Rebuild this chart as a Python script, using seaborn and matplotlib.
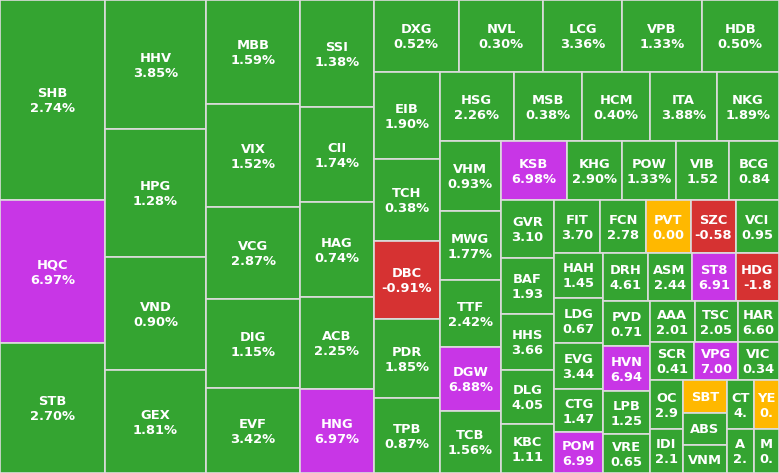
import matplotlib
matplotlib.use("Agg")
import matplotlib.pyplot as plt
import seaborn as sns

# ---- data (order as laid out, largest first) ----
tickers = ["SHB", "HQC", "STB", "HHV", "HPG", "VND", "GEX", "MBB", "VIX", "VCG",
           "DIG", "EVF", "SSI", "CII", "HAG", "ACB", "HNG", "DXG", "NVL", "LCG",
           "VPB", "HDB", "EIB", "TCH", "DBC", "PDR", "TPB", "HSG", "MSB", "HCM",
           "ITA", "NKG", "VHM", "MWG", "TTF", "DGW", "TCB", "KSB", "KHG", "POW",
           "VIB", "BCG", "GVR", "BAF", "HHS", "DLG", "KBC", "FIT", "FCN", "PVT",
           "SZC", "VCI", "HAH", "LDG", "EVG", "CTG", "POM", "DRH", "ASM", "ST8",
           "HDG", "PVD", "HVN", "LPB", "VRE", "AAA", "TSC", "HAR", "SCR", "VPG",
           "VIC", "OC", "IDI", "SBT", "ABS", "VNM", "CT", "YE", "A", "M"]

# relative tile size (trading value weight)
weights = [20900, 14912, 13616, 13102, 13030, 11565, 10455, 9703, 9582, 8612,
           8304, 7930, 7864, 7024, 6979, 6803, 6191, 6174, 6095, 5733,
           5740, 5589, 5742, 5392, 5168, 5194, 4950, 5047, 4685, 4638,
           4549, 4249, 4310, 4250, 4066, 3944, 3802, 3896, 3280, 3202,
           3162, 2947, 3058, 2984, 2968, 2862, 2597, 2445, 2387, 2371,
           2356, 2282, 2205, 2234, 2239, 2122, 1994, 2158, 2138, 2153,
           2090, 2087, 2087, 2036, 1807, 1845, 1750, 1694, 1670, 1636,
           1557, 1621, 1475, 1428, 1398, 1237, 1330, 1218, 1210, 1108]

# % price change (used for colour)
changes = [2.74, 6.97, 2.70, 3.85, 1.28, 0.90, 1.81, 1.59, 1.52, 2.87,
           1.15, 3.42, 1.38, 1.74, 0.74, 2.25, 6.97, 0.52, 0.30, 3.36,
           1.33, 0.50, 1.90, 0.38, -0.91, 1.85, 0.87, 2.26, 0.38, 0.40,
           3.88, 1.89, 0.93, 1.77, 2.42, 6.88, 1.56, 6.98, 2.90, 1.33,
           1.52, 0.84, 3.10, 1.93, 3.66, 4.05, 1.11, 3.70, 2.78, 0.00,
           -0.58, 0.95, 1.45, 0.67, 3.44, 1.47, 6.99, 4.61, 2.44, 6.91,
           -1.80, 0.71, 6.94, 1.25, 0.65, 2.01, 2.05, 6.60, 0.41, 7.00,
           0.34, 2.90, 2.10, 0.00, 1.00, 0.50, 4.00, 0.00, 2.00, 0.50]

# change text as shown in the tiles (clipped in narrow tiles)
change_labels = ["2.74%", "6.97%", "2.70%", "3.85%", "1.28%", "0.90%", "1.81%", "1.59%", "1.52%", "2.87%",
                 "1.15%", "3.42%", "1.38%", "1.74%", "0.74%", "2.25%", "6.97%", "0.52%", "0.30%", "3.36%",
                 "1.33%", "0.50%", "1.90%", "0.38%", "-0.91%", "1.85%", "0.87%", "2.26%", "0.38%", "0.40%",
                 "3.88%", "1.89%", "0.93%", "1.77%", "2.42%", "6.88%", "1.56%", "6.98%", "2.90%", "1.33%",
                 "1.52", "0.84", "3.10", "1.93", "3.66", "4.05", "1.11", "3.70", "2.78", "0.00",
                 "-0.58", "0.95", "1.45", "0.67", "3.44", "1.47", "6.99", "4.61", "2.44", "6.91",
                 "-1.8", "0.71", "6.94", "1.25", "0.65", "2.01", "2.05", "6.60", "0.41", "7.00",
                 "0.34", "2.9", "2.1", "", "", "", "4.", "0.", "2.", "0."]

W, H = 779, 473
COLORS = {"ceil": "#c836e6", "up": "#34a431", "ref": "#ffb800", "down": "#d63232"}
BORDER = "#dcdcdc"


def status(c):
    if c >= 6.8:
        return "ceil"
    if c > 0:
        return "up"
    if c == 0:
        return "ref"
    return "down"


def squarify(vals, x, y, w, h):
    total = float(sum(vals))
    areas = [v * w * h / total for v in vals]
    rects = []

    def aspect(a, b):
        return max(a / b, b / a)

    def place(group, x, y, w, h):
        s = sum(group)
        if w >= h:
            gw = s / h
            yy = y
            for a in group:
                rects.append((x, yy, gw, a / gw))
                yy += a / gw
            return x + gw, y, w - gw, h
        gh = s / w
        xx = x
        for a in group:
            rects.append((xx, y, a / gh, gh))
            xx += a / gh
        return x, y + gh, w, h - gh

    group = []
    for a in areas:
        if group:
            last = group[-1]
            side = h if w >= h else w
            t_old = sum(group) / side
            t_new = (sum(group) + a) / side
            if aspect(t_new, last / t_new) > aspect(t_old, last / t_old):
                x, y, w, h = place(group, x, y, w, h)
                group = []
        group.append(a)
    place(group, x, y, w, h)
    return rects


sns.set_theme(style="white")
plt.rcParams["font.family"] = ["DejaVu Sans"]

fig = plt.figure(figsize=(W / 100, H / 100), dpi=100)
ax = fig.add_axes([0, 0, 1, 1])
ax.set_xlim(0, W)
ax.set_ylim(H, 0)
ax.axis("off")

rects = squarify(weights, 0, 0, W, H)
xs = [r[0] for r in rects]
ys = [r[1] for r in rects]
ws = [r[2] for r in rects]
hs = [r[3] for r in rects]
cols = [COLORS[status(c)] for c in changes]

ax.bar(xs, hs, width=ws, bottom=ys, align="edge", color=cols,
       edgecolor=BORDER, linewidth=1.2)

fs = 9.4
cap = 0.729 * fs * 100 / 72
gap = 15.0
for (x, y, w, h), t, lab in zip(rects, tickers, change_labels):
    cx, cy = x + w / 2, y + h / 2
    if lab:
        b1 = cy - (gap + cap) / 2 + cap
        ax.text(cx, b1, t, ha="center", va="baseline", color="white",
                fontsize=fs, fontweight="bold")
        ax.text(cx, b1 + gap, lab, ha="center", va="baseline", color="white",
                fontsize=fs, fontweight="bold")
    else:
        ax.text(cx, cy + cap / 2, t, ha="center", va="baseline", color="white",
                fontsize=fs, fontweight="bold")

fig.savefig("out.png", dpi=100)
